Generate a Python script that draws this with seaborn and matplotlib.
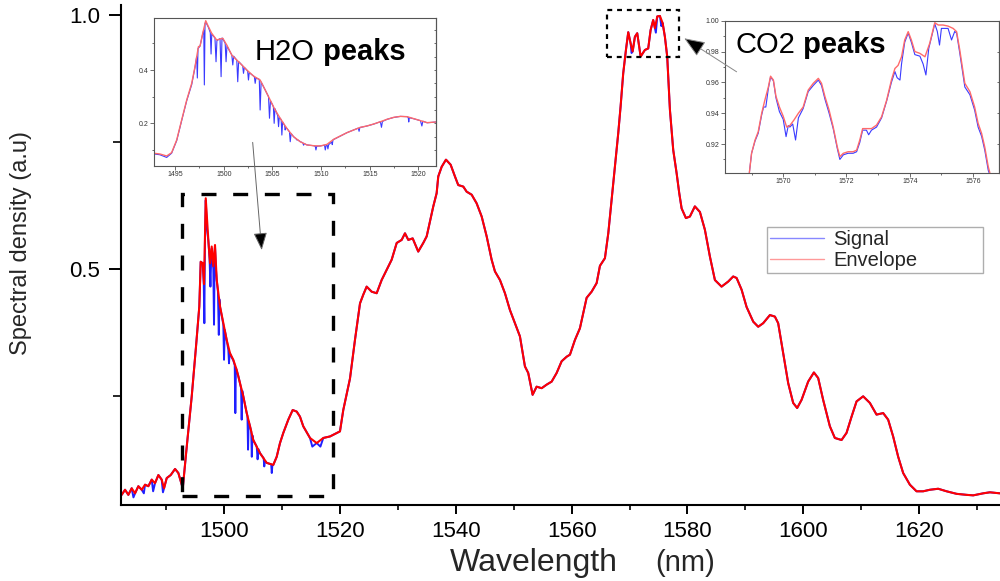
import numpy as np
import pandas as pd
import matplotlib
matplotlib.use("Agg")
import matplotlib.pyplot as plt
import seaborn as sns
from matplotlib.patches import Rectangle, ConnectionPatch
from matplotlib.lines import Line2D
from matplotlib.ticker import MultipleLocator, FixedLocator, FormatStrFormatter

sns.set_style("ticks")
plt.rcParams["font.family"] = ["Liberation Sans", "DejaVu Sans"]

# ---------------- main spectrum: envelope ----------------
env_wl = [1482.27, 1482.85, 1483.42, 1484.0, 1484.58, 1485.15, 1485.73, 1486.3, 1486.88, 1487.46,
          1488.03, 1488.61, 1489.18, 1489.59, 1490.05, 1490.74, 1491.49, 1492.06, 1492.82, 1493.51,
          1494.37, 1495.11, 1495.68, 1495.92, 1496.27, 1496.49, 1496.79, 1497.24, 1497.53, 1497.82,
          1498.1, 1498.39, 1498.69, 1499.26, 1499.83, 1500.41, 1500.98, 1501.55, 1502.14, 1502.71,
          1503.28, 1503.87, 1504.44, 1505.0, 1506.17, 1507.32, 1508.46, 1509.05, 1509.62, 1510.19,
          1511.05, 1511.81, 1512.5, 1513.07, 1513.64, 1514.8, 1515.96, 1517.1, 1518.26, 1519.98,
          1520.55, 1521.71, 1522.57, 1523.44, 1524.0, 1524.59, 1525.46, 1526.32, 1527.18, 1528.05,
          1528.91, 1529.78, 1530.64, 1531.21, 1531.78, 1532.54, 1533.5, 1534.37, 1534.96, 1535.53,
          1536.1, 1536.68, 1536.96, 1537.55, 1538.29, 1539.1, 1539.84, 1540.41, 1541.28, 1541.86,
          1542.73, 1543.59, 1544.46, 1545.32, 1546.18, 1546.75, 1547.62, 1548.48, 1549.34, 1550.21,
          1551.07, 1551.93, 1552.5, 1553.26, 1553.95, 1554.82, 1555.68, 1556.55, 1557.41, 1558.27,
          1559.14, 1559.71, 1560.57, 1561.43, 1562.59, 1563.45, 1564.32, 1564.89, 1565.75, 1566.33,
          1566.91, 1567.48, 1568.05, 1568.46, 1568.91, 1569.38, 1569.78, 1570.19, 1570.54, 1570.93,
          1571.33, 1571.92, 1572.66, 1573.23, 1573.64, 1574.09, 1574.39, 1574.79, 1575.25, 1575.72,
          1576.11, 1576.51, 1576.98, 1577.55, 1578.14, 1578.59, 1579.0, 1579.74, 1580.43, 1581.29,
          1582.16, 1583.02, 1583.89, 1584.75, 1585.9, 1587.05, 1587.91, 1588.5, 1589.36, 1590.22,
          1591.37, 1592.23, 1593.09, 1594.25, 1595.11, 1595.68, 1596.55, 1597.41, 1598.27, 1598.96,
          1599.72, 1600.86, 1601.85, 1602.59, 1603.45, 1604.61, 1605.47, 1606.63, 1607.49, 1608.36,
          1609.22, 1610.36, 1611.52, 1612.67, 1613.82, 1614.68, 1615.54, 1616.41, 1617.27, 1618.43,
          1619.58, 1620.73, 1621.88, 1623.32, 1624.77, 1626.5, 1628.22, 1629.37, 1631.1, 1632.25,
          1633.97]
env_val = [0.055, 0.065, 0.055, 0.068, 0.058, 0.072, 0.065, 0.075, 0.072, 0.085,
           0.078, 0.094, 0.085, 0.068, 0.088, 0.094, 0.106, 0.098, 0.068, 0.150,
           0.249, 0.347, 0.426, 0.514, 0.511, 0.470, 0.639, 0.557, 0.511, 0.544,
           0.505, 0.547, 0.478, 0.426, 0.393, 0.360, 0.334, 0.321, 0.301, 0.275,
           0.249, 0.216, 0.190, 0.163, 0.137, 0.118, 0.114, 0.130, 0.157, 0.177,
           0.203, 0.222, 0.219, 0.209, 0.190, 0.167, 0.157, 0.167, 0.170, 0.180,
           0.222, 0.284, 0.360, 0.432, 0.449, 0.465, 0.455, 0.452, 0.478, 0.498,
           0.518, 0.551, 0.557, 0.570, 0.557, 0.560, 0.534, 0.551, 0.564, 0.593,
           0.623, 0.649, 0.682, 0.701, 0.715, 0.705, 0.682, 0.665, 0.662, 0.652,
           0.646, 0.629, 0.603, 0.564, 0.518, 0.495, 0.478, 0.452, 0.419, 0.393,
           0.367, 0.308, 0.295, 0.252, 0.268, 0.265, 0.272, 0.278, 0.295, 0.318,
           0.327, 0.331, 0.360, 0.383, 0.443, 0.455, 0.472, 0.506, 0.521, 0.570,
           0.636, 0.701, 0.767, 0.820, 0.885, 0.931, 0.966, 0.944, 0.928, 0.957,
           0.964, 0.918, 0.931, 0.934, 0.970, 0.990, 0.974, 0.997, 0.998, 0.984,
           0.957, 0.918, 0.813, 0.734, 0.688, 0.649, 0.619, 0.600, 0.603, 0.623,
           0.612, 0.577, 0.524, 0.478, 0.465, 0.475, 0.485, 0.482, 0.459, 0.425,
           0.396, 0.386, 0.393, 0.409, 0.406, 0.393, 0.334, 0.275, 0.236, 0.226,
           0.242, 0.278, 0.296, 0.285, 0.242, 0.190, 0.167, 0.163, 0.177, 0.209,
           0.239, 0.249, 0.236, 0.213, 0.216, 0.203, 0.170, 0.130, 0.098, 0.075,
           0.062, 0.062, 0.065, 0.067, 0.062, 0.057, 0.055, 0.054, 0.058, 0.060,
           0.058]

# ---------------- main spectrum: signal where it departs from the envelope ----------------
sig_h2o_wl = [1495.68, 1495.92, 1496.27, 1496.45, 1496.55, 1496.65, 1496.79, 1497.0, 1497.24, 1497.45,
              1497.6, 1497.75, 1497.82, 1497.95, 1498.1, 1498.22, 1498.33, 1498.39, 1498.55, 1498.69,
              1498.9, 1499.05, 1499.15, 1499.26, 1499.6, 1499.83, 1499.95, 1500.07, 1500.41, 1500.7,
              1500.81, 1500.92, 1501.3, 1501.55, 1501.8, 1501.9, 1502.0, 1502.4, 1502.71, 1502.9,
              1503.0, 1503.1, 1503.28, 1503.7, 1503.87, 1504.0, 1504.1, 1504.2, 1504.44, 1504.65,
              1504.75, 1504.85, 1505.0, 1505.6, 1505.75, 1505.9, 1506.17, 1506.8, 1506.9, 1507.0,
              1507.32, 1508.1, 1508.2, 1508.3, 1508.46, 1509.05]
sig_h2o_val = [0.426, 0.514, 0.511, 0.470, 0.393, 0.550, 0.635, 0.580, 0.555, 0.520,
               0.465, 0.530, 0.540, 0.520, 0.500, 0.390, 0.530, 0.545, 0.500, 0.478,
               0.455, 0.370, 0.440, 0.425, 0.405, 0.390, 0.321, 0.380, 0.360, 0.340,
               0.314, 0.335, 0.325, 0.320, 0.310, 0.216, 0.305, 0.290, 0.275, 0.265,
               0.203, 0.260, 0.249, 0.225, 0.216, 0.210, 0.144, 0.200, 0.190, 0.180,
               0.130, 0.172, 0.163, 0.150, 0.125, 0.145, 0.137, 0.127, 0.111, 0.122,
               0.118, 0.115, 0.098, 0.113, 0.114, 0.130]
sig_extra_wl = [1484.3, 1486.1, 1487.7, 1489.4, 1515.2, 1516.6, 1570.35, 1574.55, 1575.5]
sig_extra_val = [0.050, 0.058, 0.062, 0.060, 0.150, 0.150, 0.925, 0.965, 0.978]

# ---------------- H2O inset ----------------
h2o_env_wl = [1492.87, 1493.45, 1494.14, 1494.65, 1495.17, 1495.68, 1496.2, 1496.71, 1497.05, 1497.4,
              1497.57, 1497.84, 1498.15, 1498.43, 1498.77, 1499.28, 1499.9, 1500.31, 1500.83, 1501.34,
              1501.86, 1502.37, 1503.06, 1503.74, 1504.26, 1504.77, 1505.28, 1505.8, 1506.48, 1507.17,
              1507.86, 1508.54, 1509.23, 1509.91, 1510.6, 1511.29, 1511.97, 1512.66, 1513.34, 1514.03,
              1514.71, 1515.4, 1516.09, 1516.77, 1517.46, 1518.14, 1518.83, 1519.52, 1520.2, 1520.89,
              1521.83]
h2o_env_val = [0.0875, 0.085, 0.0775, 0.090, 0.1375, 0.2125, 0.2875, 0.350, 0.4125, 0.4875,
               0.490, 0.5375, 0.585, 0.5625, 0.5375, 0.5125, 0.519, 0.494, 0.456, 0.4375,
               0.419, 0.400, 0.3775, 0.3625, 0.325, 0.2875, 0.250, 0.219, 0.181, 0.150,
               0.131, 0.119, 0.116, 0.115, 0.121, 0.140, 0.1525, 0.165, 0.175, 0.185,
               0.190, 0.1975, 0.206, 0.215, 0.2225, 0.226, 0.225, 0.2175, 0.210, 0.2025,
               0.205]
h2o_sig_wl = [1492.87, 1493.45, 1494.14, 1494.65, 1495.17, 1495.68, 1496.2, 1496.71, 1497.05, 1497.22,
              1497.29, 1497.36, 1497.57, 1497.84, 1497.95, 1498.01, 1498.08, 1498.15, 1498.43, 1498.62,
              1498.7, 1498.77, 1499.1, 1499.21, 1499.3, 1499.62, 1499.73, 1499.82, 1499.9, 1500.15,
              1500.24, 1500.33, 1500.83, 1500.93, 1501.02, 1501.34, 1501.44, 1501.53, 1501.86, 1501.95,
              1502.03, 1502.12, 1502.37, 1502.46, 1502.54, 1502.62, 1503.06, 1503.15, 1503.23, 1503.31,
              1503.65, 1503.74, 1503.84, 1504.26, 1504.6, 1504.7, 1504.8, 1505.1, 1505.18, 1505.26,
              1505.55, 1505.63, 1505.7, 1505.9, 1505.97, 1506.05, 1506.25, 1506.31, 1506.38, 1506.75,
              1506.83, 1506.92, 1507.17, 1507.42, 1507.51, 1507.6, 1507.86, 1508.12, 1508.2, 1508.28,
              1508.54, 1509.23, 1509.4, 1509.47, 1509.55, 1509.91, 1510.35, 1510.43, 1510.52, 1510.62,
              1510.7, 1510.78, 1511.08, 1511.15, 1511.22, 1511.97, 1512.66, 1513.34, 1513.82, 1513.9,
              1513.98, 1514.71, 1515.4, 1516.09, 1516.2, 1516.3, 1516.77, 1517.46, 1518.14, 1518.83,
              1518.95, 1519.0, 1519.06, 1519.52, 1520.2, 1520.35, 1520.45, 1520.89, 1521.83]
h2o_sig_val = [0.085, 0.082, 0.072, 0.088, 0.135, 0.210, 0.285, 0.345, 0.410, 0.450,
               0.370, 0.480, 0.490, 0.535, 0.550, 0.344, 0.575, 0.580, 0.560, 0.540,
               0.460, 0.535, 0.520, 0.431, 0.510, 0.518, 0.375, 0.520, 0.518, 0.500,
               0.431, 0.490, 0.456, 0.419, 0.452, 0.437, 0.356, 0.432, 0.419, 0.415,
               0.3875, 0.410, 0.400, 0.395, 0.3625, 0.390, 0.3775, 0.374, 0.350, 0.370,
               0.365, 0.250, 0.355, 0.325, 0.300, 0.219, 0.285, 0.262, 0.200, 0.255,
               0.228, 0.1875, 0.222, 0.214, 0.156, 0.205, 0.192, 0.175, 0.186, 0.168,
               0.131, 0.162, 0.150, 0.142, 0.1375, 0.138, 0.131, 0.127, 0.118, 0.124,
               0.119, 0.116, 0.114, 0.100, 0.114, 0.115, 0.118, 0.100, 0.118, 0.118,
               0.104, 0.120, 0.130, 0.120, 0.138, 0.152, 0.165, 0.175, 0.182, 0.170,
               0.184, 0.190, 0.197, 0.206, 0.185, 0.207, 0.215, 0.222, 0.226, 0.225,
               0.222, 0.205, 0.221, 0.217, 0.210, 0.190, 0.208, 0.202, 0.205]

# ---------------- CO2 inset ----------------
co2_env_wl = [1568.93, 1569.0, 1569.11, 1569.21, 1569.32, 1569.42, 1569.53, 1569.6, 1569.69, 1569.77,
              1569.88, 1570.0, 1570.11, 1570.21, 1570.34, 1570.48, 1570.63, 1570.79, 1570.95, 1571.11,
              1571.21, 1571.32, 1571.45, 1571.58, 1571.71, 1571.79, 1571.9, 1572.05, 1572.21, 1572.32,
              1572.42, 1572.51, 1572.63, 1572.79, 1572.95, 1573.11, 1573.27, 1573.42, 1573.53, 1573.63,
              1573.74, 1573.84, 1573.95, 1574.05, 1574.16, 1574.32, 1574.48, 1574.63, 1574.79, 1574.9,
              1575.05, 1575.21, 1575.37, 1575.48, 1575.58, 1575.74, 1575.9, 1576.05, 1576.16, 1576.27,
              1576.37, 1576.48, 1576.53]
co2_env_val = [0.9014, 0.914, 0.9226, 0.928, 0.940, 0.9485, 0.957, 0.964, 0.9615, 0.951,
               0.944, 0.938, 0.931, 0.932, 0.9356, 0.940, 0.944, 0.955, 0.9594, 0.9626,
               0.9594, 0.9507, 0.942, 0.931, 0.918, 0.9118, 0.914, 0.915, 0.915, 0.916,
               0.9226, 0.930, 0.930, 0.930, 0.9323, 0.9377, 0.9485, 0.9615, 0.969, 0.971,
               0.9766, 0.9875, 0.9929, 0.9875, 0.980, 0.9788, 0.9766, 0.9853, 0.9987, 0.9972,
               0.9972, 0.9965, 0.995, 0.9929, 0.981, 0.9594, 0.954, 0.944, 0.9334, 0.9269,
               0.918, 0.9053, 0.9014]
co2_sig_wl = [1568.93, 1569.0, 1569.11, 1569.21, 1569.32, 1569.38, 1569.45, 1569.53, 1569.6, 1569.69,
              1569.77, 1569.88, 1570.0, 1570.09, 1570.16, 1570.21, 1570.3, 1570.39, 1570.48, 1570.63,
              1570.79, 1570.95, 1571.11, 1571.21, 1571.32, 1571.45, 1571.58, 1571.71, 1571.79, 1571.9,
              1572.05, 1572.21, 1572.32, 1572.42, 1572.51, 1572.63, 1572.7, 1572.79, 1572.95, 1573.11,
              1573.27, 1573.42, 1573.53, 1573.6, 1573.69, 1573.74, 1573.84, 1573.95, 1574.05, 1574.16,
              1574.32, 1574.42, 1574.51, 1574.6, 1574.79, 1574.87, 1574.94, 1575.0, 1575.21, 1575.32,
              1575.42, 1575.48, 1575.58, 1575.74, 1575.9, 1576.05, 1576.16, 1576.27, 1576.37, 1576.48,
              1576.53]
co2_sig_val = [0.9014, 0.914, 0.922, 0.927, 0.939, 0.944, 0.944, 0.956, 0.9635, 0.961,
               0.950, 0.941, 0.936, 0.9248, 0.932, 0.931, 0.933, 0.9226, 0.937, 0.943,
               0.954, 0.958, 0.9615, 0.958, 0.949, 0.940, 0.930, 0.917, 0.910, 0.913,
               0.914, 0.914, 0.915, 0.921, 0.929, 0.929, 0.926, 0.929, 0.931, 0.937,
               0.948, 0.960, 0.967, 0.963, 0.9615, 0.972, 0.986, 0.992, 0.986, 0.978,
               0.977, 0.972, 0.9648, 0.982, 0.998, 0.993, 0.9842, 0.995, 0.995, 0.9875,
               0.993, 0.992, 0.979, 0.957, 0.952, 0.942, 0.931, 0.925, 0.916, 0.903,
               0.900]

x_ticks_main = [1500, 1520, 1540, 1560, 1580, 1600, 1620]
y_ticks_main = [0.5, 1.0]

# ---------------- assemble tables ----------------
env = pd.DataFrame({"wl": env_wl, "val": env_val})
h2o_part = pd.DataFrame({"wl": sig_h2o_wl, "val": sig_h2o_val})
extra = pd.DataFrame({"wl": sig_extra_wl, "val": sig_extra_val})
outside = env[(env.wl < sig_h2o_wl[0]) | (env.wl > sig_h2o_wl[-1])]
sig = pd.concat([outside, h2o_part, extra]).sort_values("wl").reset_index(drop=True)

BLUE = "#1f1fff"
RED = "#ff0000"

fig = plt.figure(figsize=(10, 5.81), dpi=100)
fig.patch.set_facecolor("white")
ax = fig.add_axes([0.1207, 0.1308, 0.8793, 0.861])

sns.lineplot(data=sig, x="wl", y="val", ax=ax, color=BLUE, linewidth=1.4,
             estimator=None, sort=False, legend=False)
sns.lineplot(data=env, x="wl", y="val", ax=ax, color=RED, linewidth=1.5,
             estimator=None, sort=False, legend=False)

ax.set_xlim(1482.1, 1634.0)
ax.set_ylim(0.035, 1.02)
ax.set_xticks(x_ticks_main)
ax.xaxis.set_minor_locator(MultipleLocator(10))
ax.set_yticks(y_ticks_main)
ax.yaxis.set_minor_locator(FixedLocator([0.25, 0.75]))
ax.yaxis.set_major_formatter(FormatStrFormatter("%.1f"))
for s in ["top", "right"]:
    ax.spines[s].set_visible(False)
for s in ["left", "bottom"]:
    ax.spines[s].set_linewidth(1.5)
    ax.spines[s].set_color("black")
ax.tick_params(axis="x", which="major", direction="out", length=6.5, width=1.4,
               labelsize=16, pad=5, colors="black")
ax.tick_params(axis="x", which="minor", direction="out", length=3.6, width=1.4)
ax.tick_params(axis="y", which="major", direction="out", length=9, width=1.4,
               labelsize=16, pad=6, colors="black")
ax.tick_params(axis="y", which="minor", direction="out", length=5.8, width=1.4)
ax.set_xlabel("")
ax.set_ylabel("Spectral density (a.u)", fontsize=17)
ax.yaxis.set_label_coords(-0.101, 0.524)

fig.text(0.450, 0.0165, "Wavelength", fontsize=23, ha="left", va="baseline")
fig.text(0.655, 0.0165, "(nm)", fontsize=21, ha="left", va="baseline")

# dashed boxes
ax.add_patch(Rectangle((1492.64, 0.0518), 1518.83 - 1492.64, 0.6476 - 0.0518,
                       fill=False, ec="black", lw=2.4, ls=(0, (4.5, 5)), zorder=5))
ax.add_patch(Rectangle((1566.15, 0.9167), 1578.53 - 1566.15, 1.0098 - 0.9167,
                       fill=False, ec="black", lw=1.6, ls=(0, (2.2, 2.2)), zorder=5,
                       clip_on=False))

# legend
handles = [Line2D([], [], color="#8888ff", lw=1.0), Line2D([], [], color="#ff9999", lw=1.0)]
leg = ax.legend(handles, ["Signal", "Envelope"], loc="upper left",
                bbox_to_anchor=(0.7667, 1 - 227.3 / 581 - 0.05, 0.216, 0.05),
                bbox_transform=fig.transFigure, mode="expand", frameon=True,
                fancybox=False, edgecolor="#9a9a9a", fontsize=14.5, handlelength=2.7,
                handletextpad=0.45, borderpad=0.15, labelspacing=0.08, borderaxespad=0)
leg.get_frame().set_linewidth(1.0)

# ---------------- insets ----------------
def style_inset(a):
    a.set_facecolor("white")
    for s in a.spines.values():
        s.set_color("#555555")
        s.set_linewidth(0.8)
    a.tick_params(which="both", direction="out", width=0.6, colors="#555555",
                  labelsize=5, labelcolor="#333333", pad=1.5)
    a.tick_params(which="major", length=2.6)
    a.tick_params(which="minor", length=1.6)
    a.set_xlabel("")
    a.set_ylabel("")

ax_h = fig.add_axes([0.1543, 1 - 165.7 / 581, 0.2817, 147.4 / 581], zorder=3)
sns.lineplot(x=h2o_sig_wl, y=h2o_sig_val, ax=ax_h, color="#3a3aff", linewidth=0.8,
             estimator=None, sort=False, legend=False)
sns.lineplot(x=h2o_env_wl, y=h2o_env_val, ax=ax_h, color="#ff6a6a", linewidth=1.0,
             estimator=None, sort=False, legend=False)
ax_h.set_xlim(1492.87, 1521.8)
ax_h.set_ylim(0.041, 0.594)
ax_h.set_xticks([1495, 1500, 1505, 1510, 1515, 1520])
ax_h.xaxis.set_minor_locator(MultipleLocator(2.5))
ax_h.set_yticks([0.2, 0.4])
ax_h.yaxis.set_minor_locator(MultipleLocator(0.1))
ax_h.yaxis.set_major_formatter(FormatStrFormatter("%.1f"))
style_inset(ax_h)
sec_h = ax_h.secondary_yaxis("right")
sec_h.set_yticks([0.1, 0.15, 0.2, 0.25, 0.3, 0.35, 0.4, 0.45, 0.5, 0.55])
sec_h.tick_params(direction="in", length=1.8, width=0.6, colors="#555555", labelright=False)
sec_h.spines["right"].set_color("#555555")
sec_h.spines["right"].set_linewidth(0.8)
t1 = ax_h.text(0.3575, 0.717, "H2O", transform=ax_h.transAxes, fontsize=21,
               ha="left", va="baseline", color="black")
ax_h.annotate(" peaks", xy=(1, 0), xycoords=t1, fontsize=21, fontweight="bold",
              ha="left", va="bottom", color="black")

ax_c = fig.add_axes([0.725, 1 - 172.7 / 581, 0.274, 152 / 581], zorder=3)
sns.lineplot(x=co2_sig_wl, y=co2_sig_val, ax=ax_c, color="#3a3aff", linewidth=0.8,
             estimator=None, sort=False, legend=False)
sns.lineplot(x=co2_env_wl, y=co2_env_val, ax=ax_c, color="#ff6a6a", linewidth=1.0,
             estimator=None, sort=False, legend=False)
ax_c.set_xlim(1568.16, 1576.82)
ax_c.set_ylim(0.9014, 1.0)
ax_c.set_xticks([1570, 1572, 1574, 1576])
ax_c.xaxis.set_minor_locator(MultipleLocator(1))
ax_c.set_yticks([0.92, 0.94, 0.96, 0.98, 1.00])
ax_c.yaxis.set_minor_locator(MultipleLocator(0.01))
ax_c.yaxis.set_major_formatter(FormatStrFormatter("%.2f"))
style_inset(ax_c)
sec_c = ax_c.secondary_yaxis("right")
sec_c.set_yticks([0.92, 0.94, 0.96, 0.98])
sec_c.tick_params(direction="in", length=1.8, width=0.6, colors="#555555", labelright=False)
sec_c.spines["right"].set_color("#555555")
sec_c.spines["right"].set_linewidth(0.8)
t2 = ax_c.text(0.0365, 0.7855, "CO2", transform=ax_c.transAxes, fontsize=21,
               ha="left", va="baseline", color="black")
ax_c.annotate(" peaks", xy=(1, 0), xycoords=t2, fontsize=21, fontweight="bold",
              ha="left", va="bottom", color="black")

# arrows
arr1 = ConnectionPatch(xyA=(1504.9, 0.749), xyB=(1506.46, 0.537), coordsA="data", coordsB="data",
                       axesA=ax, axesB=ax, arrowstyle="-|>,head_length=0.9,head_width=0.35",
                       mutation_scale=12, lw=0.7, ec="#666666", fc="black",
                       shrinkA=0, shrinkB=0, zorder=10)
fig.add_artist(arr1)
arr2 = ConnectionPatch(xyA=(1588.5, 0.888), xyB=(1579.45, 0.954), coordsA="data", coordsB="data",
                       axesA=ax, axesB=ax, arrowstyle="-|>,head_length=1.0,head_width=0.4",
                       mutation_scale=13, lw=0.7, ec="#888888", fc="black",
                       shrinkA=0, shrinkB=0, zorder=10)
fig.add_artist(arr2)

fig.savefig("out.png", dpi=100, facecolor="white")
